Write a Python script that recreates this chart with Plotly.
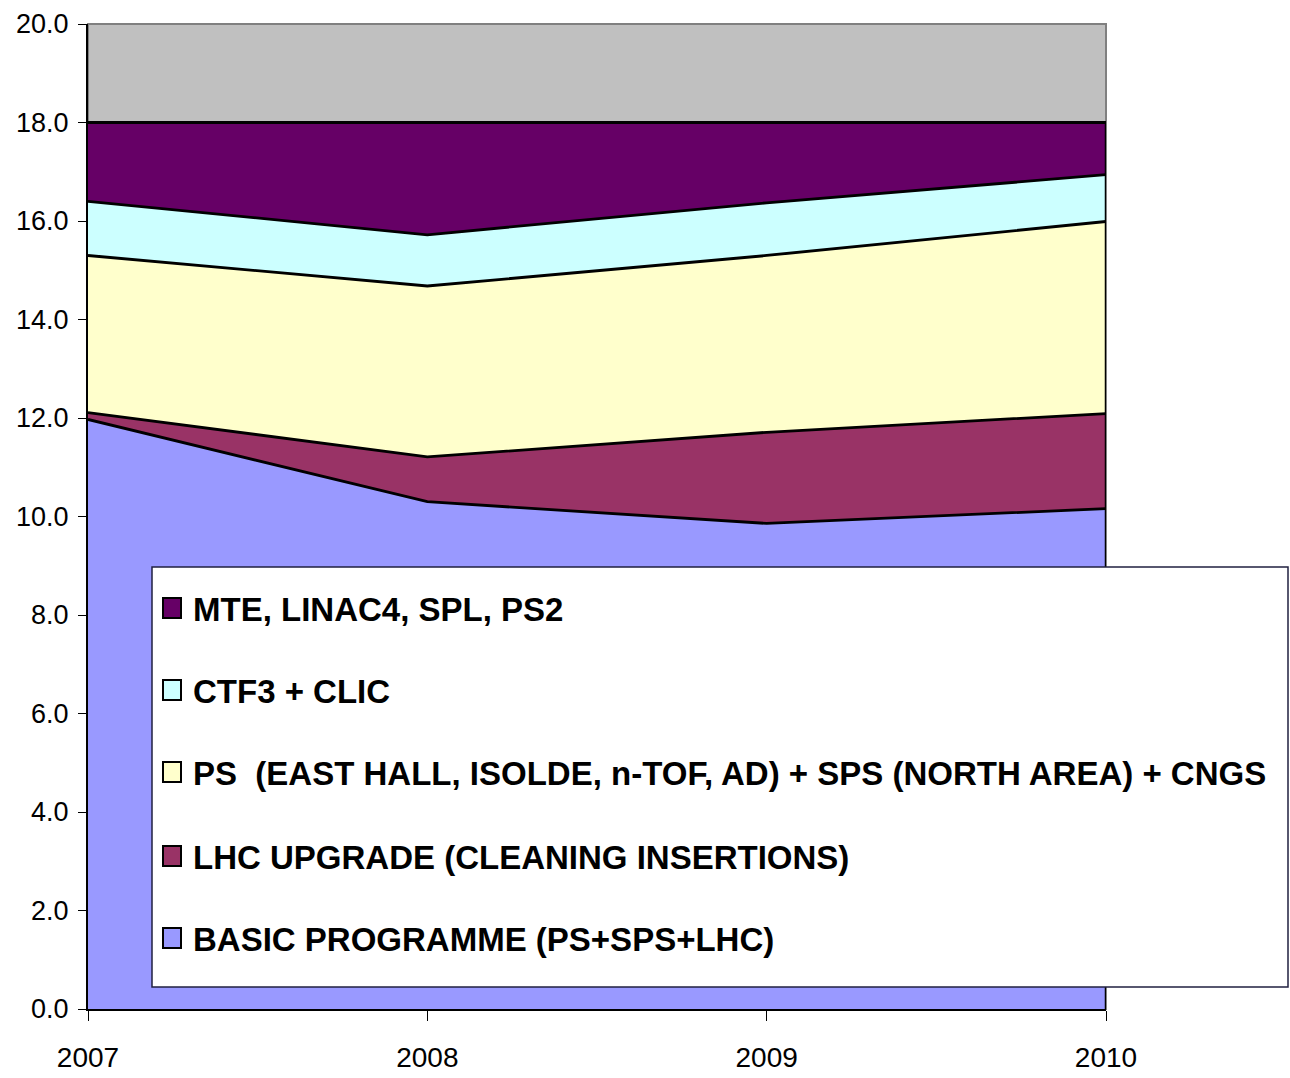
import plotly.graph_objects as go

# Budget profile per year, stacked
years = [2007, 2008, 2009, 2010]
basic = [11.97, 10.30, 9.86, 10.16]
lhc_upgrade = [0.14, 0.91, 1.85, 1.93]
ps_sps = [3.19, 3.47, 3.59, 3.90]
ctf3_clic = [1.10, 1.04, 1.07, 0.95]
mte_linac4 = [1.60, 2.28, 1.63, 1.06]

names = [
    "BASIC PROGRAMME (PS+SPS+LHC)",
    "LHC UPGRADE (CLEANING INSERTIONS)",
    "PS  (EAST HALL, ISOLDE, n-TOF, AD) + SPS (NORTH AREA) + CNGS",
    "CTF3 + CLIC",
    "MTE, LINAC4, SPL, PS2",
]
series = [basic, lhc_upgrade, ps_sps, ctf3_clic, mte_linac4]
colors = ["#9999FF", "#993366", "#FFFFCC", "#CCFFFF", "#660066"]

y_ticks = [0, 2, 4, 6, 8, 10, 12, 14, 16, 18, 20]

W, H = 1290, 1078
L, R, T, B = 88, 184, 24, 69
plot_w = W - L - R
plot_h = H - T - B


def px(x):
    return (x - L) / plot_w


def py(y):
    return (H - B - y) / plot_h


fig = go.Figure()
for name, vals, col in zip(names, series, colors):
    fig.add_trace(go.Scatter(
        x=years, y=vals, name=name, mode="lines",
        stackgroup="one", fillcolor=col,
        line=dict(color="black", width=2.8),
        showlegend=False, hoverinfo="skip",
    ))

# right edge of the filled stack
total_last = sum(s[-1] for s in series)
fig.add_shape(type="line", xref="x", yref="y", x0=years[-1], x1=years[-1],
              y0=0, y1=total_last, line=dict(color="black", width=2.5))

# plot frame (top / right)
fig.add_shape(type="rect", xref="paper", yref="paper", x0=0, x1=1, y0=0, y1=1,
              line=dict(color="#808080", width=2), layer="below")

# legend box
fig.add_shape(type="rect", xref="paper", yref="paper",
              x0=px(152), x1=px(1288), y0=py(987), y1=py(567),
              fillcolor="white", line=dict(color="#202040", width=1.5))

legend_font = dict(family="Liberation Sans, Arial", size=33, color="black")
row_y = [938, 856, 772, 690, 608]  # bottom-to-top in stacking order
for name, col, yc in zip(names, colors, row_y):
    fig.add_shape(type="rect", xref="paper", yref="paper",
                  x0=px(163), x1=px(181), y0=py(yc + 10), y1=py(yc - 10),
                  fillcolor=col, line=dict(color="black", width=2))
    fig.add_annotation(xref="paper", yref="paper", x=px(191), y=py(yc + 1),
                       text="<b>" + name + "</b>", showarrow=False,
                       xanchor="left", yanchor="middle", font=legend_font)

y_font = dict(family="Liberation Sans, Arial", size=27, color="black")
x_font = dict(family="Liberation Sans, Arial", size=28, color="black")
fig.update_layout(
    width=W, height=H,
    margin=dict(l=L, r=R, t=T, b=B, autoexpand=False),
    paper_bgcolor="white", plot_bgcolor="#C0C0C0",
    xaxis=dict(range=[2007, 2010], tickvals=years, ticktext=[str(y) for y in years],
               showgrid=False, zeroline=False, showline=True, linecolor="black",
               linewidth=2, ticks="outside", ticklen=10, tickcolor="black",
               tickfont=x_font, ticklabelstandoff=12),
    yaxis=dict(range=[0, 20], tickvals=y_ticks, tickformat=".1f",
               showgrid=False, zeroline=False, showline=True, linecolor="black",
               linewidth=2, ticks="outside", ticklen=8, tickcolor="black",
               tickfont=y_font, ticklabelstandoff=4),
)

fig.write_html("out.html")
